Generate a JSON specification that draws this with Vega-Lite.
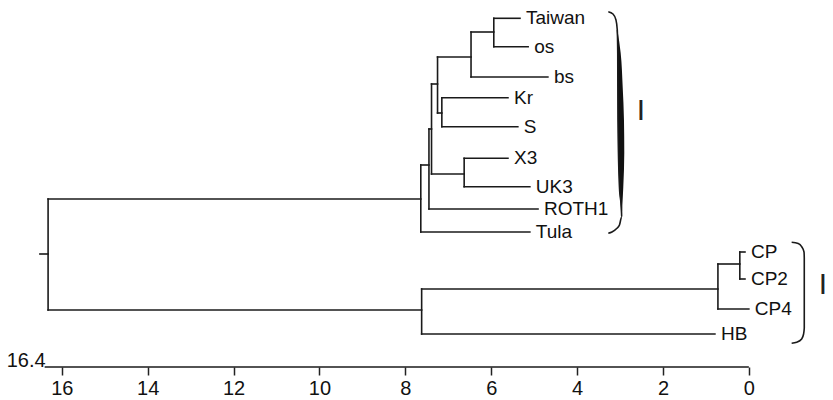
{
  "$schema": "https://vega.github.io/schema/vega-lite/v6.json",
  "width": 833,
  "height": 367,
  "autosize": {"type": "none"},
  "padding": {"left": 0, "right": 0, "top": 0, "bottom": 33},
  "background": "white",
  "config": {"view": {"stroke": null}, "font": "Liberation Sans"},
  "datasets": {
    "segments": [
      {"d1": 16.51, "d2": 16.32, "p1": 254, "p2": 254},
      {"d1": 16.32, "d2": 7.64, "p1": 199, "p2": 199},
      {"d1": 16.32, "d2": 7.62, "p1": 310, "p2": 310},
      {"d1": 16.32, "d2": 16.32, "p1": 199, "p2": 310},
      {"d1": 7.64, "d2": 7.45, "p1": 165, "p2": 165},
      {"d1": 7.64, "d2": 5.10, "p1": 232, "p2": 232},
      {"d1": 7.64, "d2": 7.64, "p1": 165, "p2": 232},
      {"d1": 7.45, "d2": 7.39, "p1": 129, "p2": 129},
      {"d1": 7.45, "d2": 4.91, "p1": 209, "p2": 209},
      {"d1": 7.45, "d2": 7.45, "p1": 129, "p2": 209},
      {"d1": 7.39, "d2": 7.25, "p1": 84, "p2": 84},
      {"d1": 7.39, "d2": 6.63, "p1": 174, "p2": 174},
      {"d1": 7.39, "d2": 7.39, "p1": 84, "p2": 174},
      {"d1": 7.25, "d2": 6.47, "p1": 57, "p2": 57},
      {"d1": 7.25, "d2": 7.15, "p1": 113, "p2": 113},
      {"d1": 7.25, "d2": 7.25, "p1": 57, "p2": 113},
      {"d1": 6.47, "d2": 5.94, "p1": 32, "p2": 32},
      {"d1": 6.47, "d2": 4.68, "p1": 77, "p2": 77},
      {"d1": 6.47, "d2": 6.47, "p1": 32, "p2": 77},
      {"d1": 5.94, "d2": 5.33, "p1": 18.3, "p2": 18.3},
      {"d1": 5.94, "d2": 5.14, "p1": 46.7, "p2": 46.7},
      {"d1": 5.94, "d2": 5.94, "p1": 18.3, "p2": 46.7},
      {"d1": 7.15, "d2": 5.61, "p1": 97.7, "p2": 97.7},
      {"d1": 7.15, "d2": 5.38, "p1": 126.7, "p2": 126.7},
      {"d1": 7.15, "d2": 7.15, "p1": 97.7, "p2": 126.7},
      {"d1": 6.63, "d2": 5.61, "p1": 158.3, "p2": 158.3},
      {"d1": 6.63, "d2": 5.10, "p1": 186.7, "p2": 186.7},
      {"d1": 6.63, "d2": 6.63, "p1": 158.3, "p2": 186.7},
      {"d1": 7.62, "d2": 0.72, "p1": 289, "p2": 289},
      {"d1": 7.62, "d2": 0.79, "p1": 334, "p2": 334},
      {"d1": 7.62, "d2": 7.62, "p1": 289, "p2": 334},
      {"d1": 0.72, "d2": 0.21, "p1": 264, "p2": 264},
      {"d1": 0.72, "d2": 0, "p1": 309, "p2": 309},
      {"d1": 0.72, "d2": 0.72, "p1": 264, "p2": 309},
      {"d1": 0.21, "d2": 0.09, "p1": 252, "p2": 252},
      {"d1": 0.21, "d2": 0.09, "p1": 279, "p2": 279},
      {"d1": 0.21, "d2": 0.21, "p1": 252, "p2": 279}
    ],
    "leaves": [
      {"name": "Taiwan", "d": 5.33, "p": 18.3},
      {"name": "os", "d": 5.14, "p": 46.7},
      {"name": "bs", "d": 4.68, "p": 77},
      {"name": "Kr", "d": 5.61, "p": 97.7},
      {"name": "S", "d": 5.38, "p": 126.7},
      {"name": "X3", "d": 5.61, "p": 158.3},
      {"name": "UK3", "d": 5.10, "p": 186.7},
      {"name": "ROTH1", "d": 4.91, "p": 209},
      {"name": "Tula", "d": 5.10, "p": 232},
      {"name": "CP", "d": 0.09, "p": 252},
      {"name": "CP2", "d": 0.09, "p": 279},
      {"name": "CP4", "d": 0, "p": 309},
      {"name": "HB", "d": 0.79, "p": 334}
    ],
    "brackets": [
      {"g": "I", "d": 3.273, "p": 11.7},
      {"g": "I", "d": 3.164, "p": 14},
      {"g": "I", "d": 3.094, "p": 20},
      {"g": "I", "d": 3.064, "p": 30},
      {"g": "I", "d": 3.053, "p": 53},
      {"g": "I", "d": 3.048, "p": 120},
      {"g": "I", "d": 3.013, "p": 187},
      {"g": "I", "d": 2.966, "p": 210},
      {"g": "I", "d": 2.962, "p": 217},
      {"g": "I", "d": 3.013, "p": 225},
      {"g": "I", "d": 3.078, "p": 228.5},
      {"g": "I", "d": 3.188, "p": 232},
      {"g": "I", "d": 3.273, "p": 233.3},
      {"g": "II", "d": -0.997, "p": 242.3},
      {"g": "II", "d": -1.15, "p": 243.5},
      {"g": "II", "d": -1.23, "p": 246.7},
      {"g": "II", "d": -1.285, "p": 252},
      {"g": "II", "d": -1.291, "p": 258},
      {"g": "II", "d": -1.291, "p": 328},
      {"g": "II", "d": -1.275, "p": 334},
      {"g": "II", "d": -1.23, "p": 339},
      {"g": "II", "d": -1.114, "p": 342.3},
      {"g": "II", "d": -0.997, "p": 343.3}
    ],
    "crescent": [
      {"p": 30, "a": 3.078, "b": 3.060},
      {"p": 53, "a": 3.055, "b": 2.985},
      {"p": 87, "a": 3.055, "b": 2.938},
      {"p": 120, "a": 3.048, "b": 2.908},
      {"p": 153, "a": 3.041, "b": 2.901},
      {"p": 187, "a": 3.017, "b": 2.924},
      {"p": 207, "a": 2.985, "b": 2.948},
      {"p": 218, "a": 2.971, "b": 2.962}
    ],
    "groups": [
      {"label": "I", "d": 2.512, "p": 111},
      {"label": "I", "d": -1.726, "p": 285}
    ],
    "scale": [
      {"label": "16.4", "from": 16.4, "to": 0, "p": 367}
    ]
  },
  "layer": [
    {
      "data": {"name": "segments"},
      "mark": {"type": "rule", "color": "#1a1a1a", "strokeWidth": 1.6, "strokeCap": "square"},
      "encoding": {
        "x": {"field": "d1", "type": "quantitative",
              "scale": {"domain": [17.44, -1.96], "nice": false, "zero": false},
              "axis": {"values": [0, 2, 4, 6, 8, 10, 12, 14, 16], "format": "d", "domain": false, "grid": false,
                       "tickSize": 8, "tickWidth": 1.5, "tickColor": "#222", "labelFontSize": 20,
                       "labelFont": "Liberation Sans", "labelColor": "#111", "labelPadding": 3, "title": null}},
        "x2": {"field": "d2"},
        "y": {"field": "p1", "type": "quantitative",
              "scale": {"domain": [0, 367], "reverse": true, "nice": false, "zero": false}, "axis": null},
        "y2": {"field": "p2"}
      }
    },
    {
      "data": {"name": "scale"},
      "mark": {"type": "rule", "color": "#1a1a1a", "strokeWidth": 1.6},
      "encoding": {
        "x": {"field": "from", "type": "quantitative", "title": null},
        "x2": {"field": "to"},
        "y": {"field": "p", "type": "quantitative", "title": null}
      }
    },
    {
      "data": {"name": "scale"},
      "mark": {"type": "text", "align": "right", "baseline": "alphabetic", "dx": 1, "fontSize": 20, "fill": "#111", "font": "Liberation Sans"},
      "encoding": {
        "x": {"field": "from", "type": "quantitative", "title": null},
        "y": {"field": "p", "type": "quantitative", "title": null},
        "text": {"field": "label"}
      }
    },
    {
      "data": {"name": "leaves"},
      "mark": {"type": "text", "align": "left", "baseline": "middle", "dx": 6, "fontSize": 19, "fill": "#111", "font": "Liberation Sans"},
      "encoding": {
        "x": {"field": "d", "type": "quantitative", "title": null},
        "y": {"field": "p", "type": "quantitative", "title": null},
        "text": {"field": "name"}
      }
    },
    {
      "data": {"name": "crescent"},
      "mark": {"type": "area", "orient": "horizontal", "fill": "#111", "interpolate": "monotone"},
      "encoding": {
        "y": {"field": "p", "type": "quantitative", "title": null},
        "x": {"field": "a", "type": "quantitative", "title": null},
        "x2": {"field": "b"}
      }
    },
    {
      "data": {"name": "brackets"},
      "mark": {"type": "line", "stroke": "#1a1a1a", "strokeWidth": 1.6, "interpolate": "monotone"},
      "encoding": {
        "x": {"field": "d", "type": "quantitative", "title": null},
        "y": {"field": "p", "type": "quantitative", "title": null},
        "detail": {"field": "g"},
        "order": {"field": "p"}
      }
    },
    {
      "data": {"name": "groups"},
      "mark": {"type": "text", "align": "center", "baseline": "middle", "fontSize": 30, "fill": "#222", "font": "Liberation Sans"},
      "encoding": {
        "x": {"field": "d", "type": "quantitative", "title": null},
        "y": {"field": "p", "type": "quantitative", "title": null},
        "text": {"field": "label"}
      }
    }
  ]
}
